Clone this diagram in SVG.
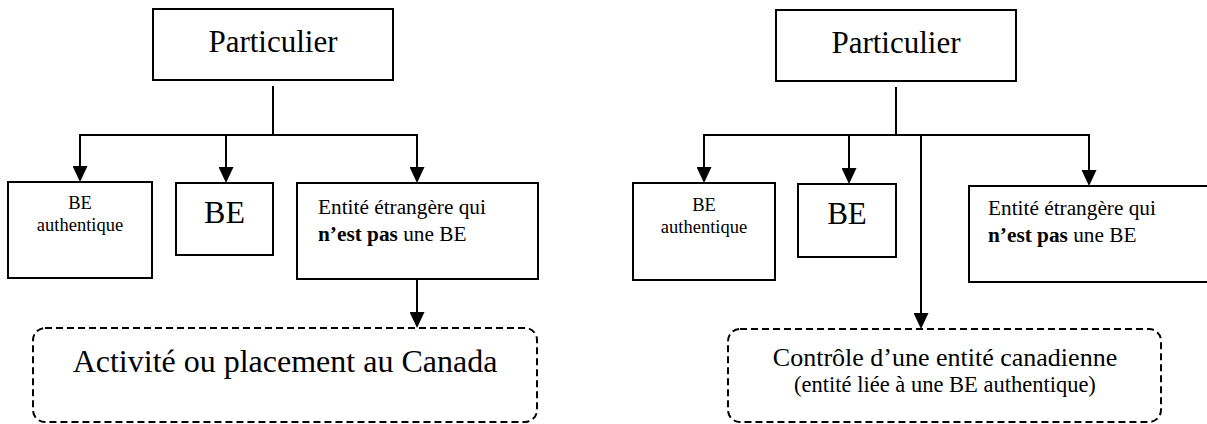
<svg xmlns="http://www.w3.org/2000/svg" width="1207" height="424" viewBox="0 0 1207 424">
  <style>
    .box { fill: #fff; stroke: #000; stroke-width: 2; }
    .dash { fill: none; stroke: #000; stroke-width: 2; stroke-dasharray: 7 4; }
    .ln { fill: none; stroke: #000; stroke-width: 2; }
    .arr { fill: none; stroke: #000; stroke-width: 2; marker-end: url(#ah); }
    text { font-family: "Liberation Serif", "Times New Roman", serif; fill: #000; }
    .t31 { font-size: 31px; text-anchor: middle; }
    .t32 { font-size: 32px; text-anchor: middle; }
    .t18 { font-size: 18.5px; text-anchor: middle; }
    .t21 { font-size: 21.3px; }
    .b { font-weight: bold; }
  </style>
  <defs>
    <marker id="ah" viewBox="0 0 16 15" refX="8" refY="7.5" markerWidth="16" markerHeight="15" markerUnits="userSpaceOnUse" orient="auto">
      <path d="M0,0 L16,7.5 L0,15 Z" fill="#000"/>
    </marker>
  </defs>

  <g id="connectors">
    <!-- left -->
    <line class="ln" x1="273" y1="86" x2="273" y2="135"/>
    <line class="ln" x1="79" y1="135" x2="418" y2="135"/>
    <line class="arr" x1="80" y1="135" x2="80" y2="174"/>
    <line class="arr" x1="226" y1="135" x2="226" y2="175"/>
    <line class="arr" x1="417" y1="135" x2="417" y2="175"/>
    <line class="arr" x1="417" y1="280" x2="417" y2="320"/>
    <!-- right -->
    <line class="ln" x1="896" y1="87" x2="896" y2="135"/>
    <line class="ln" x1="703" y1="135" x2="1090" y2="135"/>
    <line class="arr" x1="704" y1="135" x2="704" y2="175"/>
    <line class="arr" x1="849" y1="135" x2="849" y2="176"/>
    <line class="arr" x1="1089" y1="135" x2="1089" y2="178"/>
    <line class="arr" x1="921" y1="135" x2="921" y2="321"/>
  </g>

  <!-- Left diagram -->
  <g id="l-particulier">
    <rect class="box" x="153" y="9" width="240" height="71"/>
    <text class="t31" x="273" y="52">Particulier</text>
  </g>
  <g id="l-be-authentique">
    <rect class="box" x="8" y="182" width="144" height="96"/>
    <text class="t18" x="80" y="209">BE</text>
    <text class="t18" x="80" y="231">authentique</text>
  </g>
  <g id="l-be">
    <rect class="box" x="176" y="183" width="97" height="72"/>
    <text class="t32" x="224.5" y="223">BE</text>
  </g>
  <g id="l-entite">
    <rect class="box" x="297" y="183" width="241" height="96"/>
    <text class="t21" x="318" y="214">Entité étrangère qui</text>
    <text class="t21" x="318" y="241"><tspan class="b">n’est pas</tspan> une BE</text>
  </g>
  <g id="l-activite">
    <rect class="dash" x="33" y="328" width="504" height="94" rx="12" ry="12"/>
    <text class="t32" x="285" y="372">Activité ou placement au Canada</text>
  </g>

  <!-- Right diagram -->
  <g id="r-particulier">
    <rect class="box" x="776" y="10" width="240" height="71"/>
    <text class="t31" x="896" y="53">Particulier</text>
  </g>
  <g id="r-be-authentique">
    <rect class="box" x="633" y="183" width="142" height="97"/>
    <text class="t18" x="704" y="211">BE</text>
    <text class="t18" x="704" y="233">authentique</text>
  </g>
  <g id="r-be">
    <rect class="box" x="798" y="184" width="98" height="73"/>
    <text class="t31" x="847" y="224">BE</text>
  </g>
  <g id="r-entite">
    <rect class="box" x="969" y="186" width="240" height="96"/>
    <text class="t21" x="988" y="215">Entité étrangère qui</text>
    <text class="t21" x="988" y="242"><tspan class="b">n’est pas</tspan> une BE</text>
  </g>
  <g id="r-controle">
    <rect class="dash" x="728" y="329" width="433" height="93" rx="12" ry="12"/>
    <text x="945" y="366" style="font-size:26px;text-anchor:middle">Contrôle d’une entité canadienne</text>
    <text x="945" y="392" style="font-size:22.5px;text-anchor:middle">(entité liée à une BE authentique)</text>
  </g>
</svg>
